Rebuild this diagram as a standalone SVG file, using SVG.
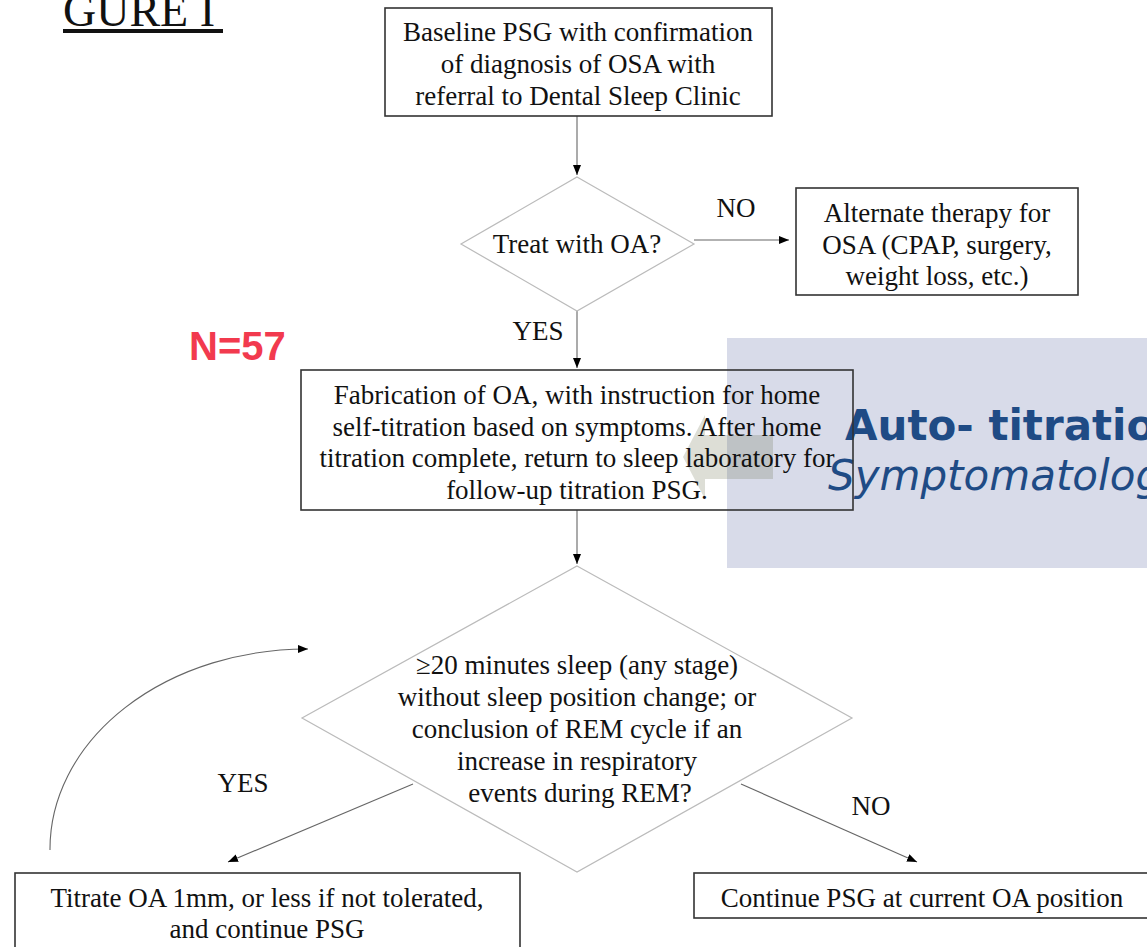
<svg xmlns="http://www.w3.org/2000/svg" width="1147" height="947" viewBox="0 0 1147 947">
<style>
.t{font-family:"Liberation Serif","Times New Roman",serif;font-size:27px;fill:#111;text-anchor:middle}
.box{fill:none;stroke:#333;stroke-width:1.6}
.dia{fill:none;stroke:#bbb;stroke-width:1.2}
.c{fill:none;stroke:#666;stroke-width:1.1}
</style>
<defs>
<marker id="ah" viewBox="0 0 10 8" refX="10" refY="4" markerWidth="10" markerHeight="8" markerUnits="userSpaceOnUse" orient="auto">
<path d="M0,0 L10,4 L0,8 Z" fill="#000"/>
</marker>
</defs>
<rect width="1147" height="947" fill="#fff"/>
<g id="title">
<text x="63" y="26" style="font-family:'Liberation Serif','Times New Roman',serif;font-size:46px;fill:#111">GURE I</text>
<line x1="63" y1="31" x2="223" y2="31" stroke="#111" stroke-width="4"/>
</g>
<g id="panel">
<rect x="727" y="338" width="420" height="230" fill="#d8dbe9"/>
<path d="M683,457 L705,415 L705,435 L773,435 L773,479 L705,479 L705,499 Z" fill="rgb(100,104,70)" fill-opacity="0.22"/>
<text x="845" y="440" style="font-family:'DejaVu Sans',Verdana,sans-serif;font-weight:bold;font-size:42px;fill:#1f4b85">Auto- titratio</text>
<text x="828" y="490" style="font-family:'DejaVu Sans',Verdana,sans-serif;font-style:italic;font-size:42px;fill:#1f4b85">Symptomatolog</text>
</g>
<g id="n57">
<text x="189" y="360" style="font-family:'Liberation Sans',Arial,sans-serif;font-weight:bold;font-size:40px;fill:#f23a4e">N=57</text>
</g>
<g id="connectors">
<line class="c" x1="577" y1="116" x2="577" y2="175" marker-end="url(#ah)"/>
<line class="c" x1="694" y1="240" x2="789" y2="240" marker-end="url(#ah)"/>
<line class="c" x1="577" y1="311" x2="577" y2="368" marker-end="url(#ah)"/>
<line class="c" x1="577" y1="510" x2="577" y2="564" marker-end="url(#ah)"/>
<line class="c" x1="413" y1="784" x2="228" y2="862" marker-end="url(#ah)"/>
<line class="c" x1="741" y1="784" x2="917" y2="862" marker-end="url(#ah)"/>
<path class="c" d="M50,850 A257,200 0 0 1 308,649" marker-end="url(#ah)"/>
<text class="t" x="736" y="217">NO</text>
<text class="t" x="538" y="340">YES</text>
<text class="t" x="243" y="792">YES</text>
<text class="t" x="871" y="815">NO</text>
</g>
<g id="baseline">
<rect class="box" x="385" y="8" width="387" height="108"/>
<text class="t" x="578" y="41">Baseline PSG with confirmation</text>
<text class="t" x="578" y="73">of diagnosis of OSA with</text>
<text class="t" x="578" y="105">referral to Dental Sleep Clinic</text>
</g>
<g id="treat">
<polygon class="dia" points="577,177 694,244 577,311 461,244"/>
<text class="t" x="577" y="253">Treat with OA?</text>
</g>
<g id="alternate">
<rect class="box" x="796" y="188" width="282" height="107"/>
<text class="t" x="937" y="222">Alternate therapy for</text>
<text class="t" x="937" y="254">OSA (CPAP, surgery,</text>
<text class="t" x="937" y="285">weight loss, etc.)</text>
</g>
<g id="fabrication">
<rect class="box" x="301" y="370" width="552" height="140"/>
<text class="t" x="577" y="404">Fabrication of OA, with instruction for home</text>
<text class="t" x="577" y="436">self-titration based on symptoms. After home</text>
<text class="t" x="577" y="467">titration complete, return to sleep laboratory for</text>
<text class="t" x="577" y="499">follow-up titration PSG.</text>
</g>
<g id="decision">
<polygon class="dia" points="577,566 852,718 577,872 302,718"/>
<text class="t" x="577" y="674">≥20 minutes sleep (any stage)</text>
<text class="t" x="577" y="706">without sleep position change; or</text>
<text class="t" x="577" y="738">conclusion of REM cycle if an</text>
<text class="t" x="577" y="770">increase in respiratory</text>
<text class="t" x="580" y="802">events during REM?</text>
</g>
<g id="titrate">
<rect class="box" x="15" y="873" width="505" height="80"/>
<text class="t" x="267" y="907">Titrate OA 1mm, or less if not tolerated,</text>
<text class="t" x="267" y="938">and continue PSG</text>
</g>
<g id="continue">
<rect class="box" x="694" y="873" width="460" height="45"/>
<text class="t" x="922" y="907">Continue PSG at current OA position</text>
</g>
</svg>
